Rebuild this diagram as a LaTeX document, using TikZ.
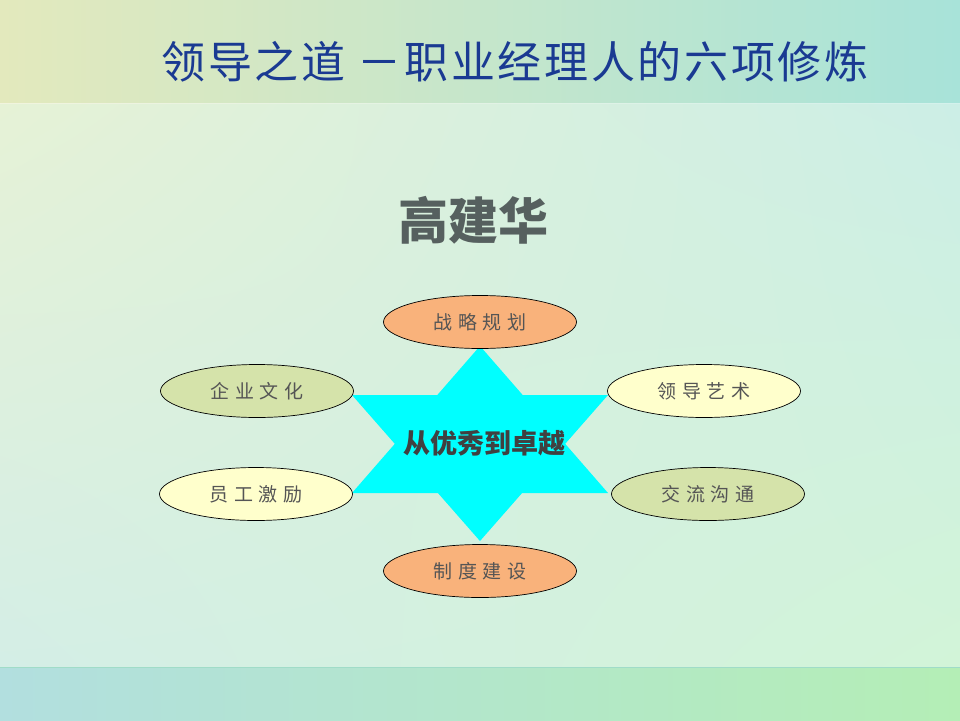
\documentclass[tikz,border=0pt]{standalone}
\usepackage{fontspec}
\newfontfamily\cjk{Noto Sans CJK SC}
\newfontfamily\cjktitle[LetterSpace=6]{Noto Sans CJK SC}
\newfontfamily\cjkwide[LetterSpace=30]{Noto Sans CJK SC}
\usetikzlibrary{shapes.geometric,shadings}

\definecolor{titleblue}{HTML}{1A3A92}
\definecolor{namegray}{HTML}{56605F}
\definecolor{itemgray}{HTML}{555555}
\definecolor{coregray}{HTML}{404040}
\definecolor{starcyan}{HTML}{00FFFF}
\definecolor{orangefill}{HTML}{F9B27B}
\definecolor{greenfill}{HTML}{D5E3AA}
\definecolor{yellowfill}{HTML}{FFFFCC}
\definecolor{bgul}{HTML}{E6F2D6}
\definecolor{bgur}{HTML}{CCEEE6}
\definecolor{bgll}{HTML}{D4EEE6}
\definecolor{bglr}{HTML}{D2F4D8}
\definecolor{topl}{HTML}{E3E9BD}
\definecolor{topr}{HTML}{A8E3D9}
\definecolor{botl}{HTML}{B2DFDF}
\definecolor{botr}{HTML}{B4EEB6}
\definecolor{botline}{HTML}{A0DCC8}

\tikzset{
  topic/.style={ellipse, draw=black, line width=0.7pt, minimum width=193pt,
    minimum height=53pt, inner sep=0pt, text=itemgray,
    font=\cjkwide\fontsize{19}{19}\selectfont},
}

\begin{document}
\begin{tikzpicture}[x=1pt,y=-1pt]
	\useasboundingbox (0,0) rectangle (960,720);
	% background
	\shade[upper left=bgul, upper right=bgur, lower left=bgll, lower right=bglr]
	  (0,103) rectangle (960,667);
	\shade[left color=topl, right color=topr] (0,0) rectangle (960,103);
	\shade[left color=botl, right color=botr] (0,667) rectangle (960,720);
	\draw[white, opacity=.5] (0,103) -- (960,103);
	\draw[botline] (0,667) -- (960,667);
	
	% titles
	\node[anchor=west, text=titleblue, font=\cjktitle\fontsize{44}{44}\selectfont] (title) at (158,62) {领导之道 －职业经理人的六项修炼};
	\node[text=namegray, font=\cjk\bfseries\fontsize{50}{50}\selectfont] (author) at (473,220) {高建华};
	
	% star
	\fill[starcyan] (480,346) -- (352,493) -- (608,493) -- cycle;
	\fill[starcyan] (480,541) -- (352,395) -- (608,395) -- cycle;
	\node[text=coregray, font=\cjk\bfseries\fontsize{27}{27}\selectfont] (core) at (484,443) {从优秀到卓越};
	
	% six topics
	\foreach \name/\x/\y/\col/\txt in {plan/480/322/orangefill/战略规划, culture/257/391/greenfill/企业文化,
	    art/704/391/yellowfill/领导艺术, motive/256/494/yellowfill/员工激励,
	    talk/708/494/greenfill/交流沟通, rules/480/571/orangefill/制度建设}
	  \node[topic, fill=\col] (\name) at (\x,\y) {\txt};
\end{tikzpicture}
\end{document}
